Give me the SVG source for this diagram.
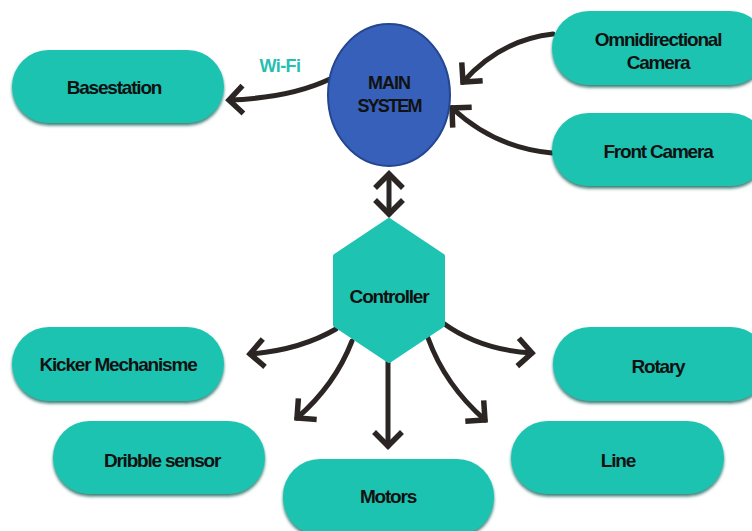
<svg xmlns="http://www.w3.org/2000/svg" width="752" height="531" viewBox="0 0 752 531">
<defs>
<style>
.pill{fill:#1ec3b1;filter:url(#sh)}
.lbl{font-family:"Liberation Sans",Arial,sans-serif;font-weight:bold;font-size:19px;fill:#111;text-anchor:middle;letter-spacing:-1.2px}
.con{fill:none;stroke:#2b2623;stroke-width:5;stroke-linecap:round}
</style>
<filter id="sh" x="-10%" y="-20%" width="120%" height="150%">
<feDropShadow dx="0" dy="2.5" stdDeviation="1.5" flood-color="#0b5e55" flood-opacity="0.8"/>
</filter>
<marker id="ah" markerUnits="userSpaceOnUse" markerWidth="36" markerHeight="36" viewBox="-18 -18 36 36" refX="0" refY="0" orient="auto-start-reverse">
<path d="M-12 -12 L0 0 L-12 12" fill="none" stroke="#2b2623" stroke-width="5.5" stroke-linecap="square" stroke-linejoin="miter"/>
</marker>
</defs>
<rect width="752" height="531" fill="#fff"/>

<g id="connectors">
<path class="con" d="M330 79 Q290 98 229 100" marker-end="url(#ah)"/>
<path class="con" d="M553 34 Q500 40 463 82" marker-end="url(#ah)"/>
<path class="con" d="M552 153 Q495 148 452 108" marker-end="url(#ah)"/>
<path class="con" d="M389 174 L389 214" marker-start="url(#ah)" marker-end="url(#ah)"/>
<path class="con" d="M336 329 Q300 350 250 354" marker-end="url(#ah)"/>
<path class="con" d="M352 341 Q335 385 297 418" marker-end="url(#ah)"/>
<path class="con" d="M388 362 L388 446" marker-end="url(#ah)"/>
<path class="con" d="M428 338 Q445 385 485 420" marker-end="url(#ah)"/>
<path class="con" d="M443 323 Q480 350 532 353" marker-end="url(#ah)"/>
<text x="280" y="72" style="font-family:'Liberation Sans',Arial,sans-serif;font-weight:bold;font-size:18px;fill:#27c0b0;text-anchor:middle;letter-spacing:-0.6px">Wi-Fi</text>
</g>

<g id="main">
<ellipse cx="389" cy="95" rx="61" ry="71" fill="#3660b9" stroke="#23468f" stroke-width="2"/>
<text class="lbl" x="389" y="89" style="font-size:18px;letter-spacing:-1px">MAIN</text>
<text class="lbl" x="389" y="112" style="font-size:18px;letter-spacing:-1.8px">SYSTEM</text>
</g>

<g id="basestation">
<rect class="pill" x="12" y="50" width="212" height="73" rx="36.5"/>
<text class="lbl" x="114" y="94">Basestation</text>
</g>

<g id="omni">
<rect class="pill" x="552" y="11" width="215" height="74" rx="37"/>
<text class="lbl" x="658" y="46">Omnidirectional</text>
<text class="lbl" x="658" y="69">Camera</text>
</g>

<g id="front">
<rect class="pill" x="552" y="113" width="215" height="73" rx="36.5"/>
<text class="lbl" x="658" y="158">Front Camera</text>
</g>

<g id="controller">
<polygon points="389,220 443,256 443,325 389,361 335,325 335,256" fill="#1ec3b1" stroke="#1ec3b1" stroke-width="4" stroke-linejoin="round"/>
<text class="lbl" x="389" y="303">Controller</text>
</g>

<g id="kicker">
<rect class="pill" x="12" y="327" width="212" height="74" rx="37"/>
<text class="lbl" x="118" y="371">Kicker Mechanisme</text>
</g>

<g id="dribble">
<rect class="pill" x="53" y="421" width="212" height="73" rx="36.5"/>
<text class="lbl" x="162" y="467">Dribble sensor</text>
</g>

<g id="motors">
<rect class="pill" x="283" y="459" width="211" height="76" rx="37"/>
<text class="lbl" x="388" y="503">Motors</text>
</g>

<g id="rotary">
<rect class="pill" x="553" y="327" width="215" height="74" rx="37"/>
<text class="lbl" x="658" y="373">Rotary</text>
</g>

<g id="line">
<rect class="pill" x="511" y="421" width="213" height="73" rx="36.5"/>
<text class="lbl" x="618" y="467">Line</text>
</g>
</svg>
